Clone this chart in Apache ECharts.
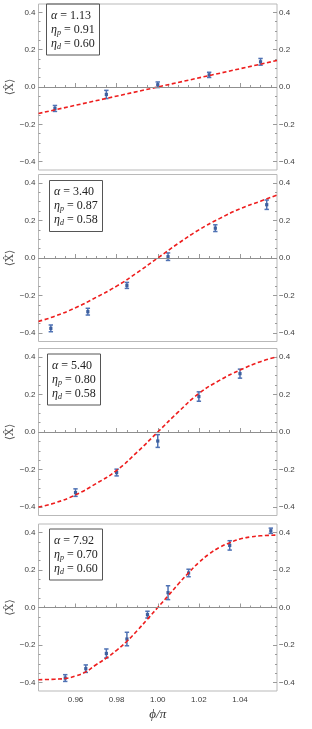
<!DOCTYPE html>
<html><head><meta charset="utf-8">
<script src="https://cdn.jsdelivr.net/npm/echarts@6/dist/echarts.min.js"></script>
<style>html,body{margin:0;padding:0;background:#fff}#c{width:312px;height:729px}</style>
</head><body><div id="c"></div>
<script>
// ---- tick labels ----
const xMajor = [0.96, 0.98, 1.00, 1.02, 1.04];
const xMinor = [0.945, 0.95, 0.955, 0.965, 0.97, 0.975, 0.985, 0.99, 0.995, 1.005, 1.01, 1.015, 1.025, 1.03, 1.035, 1.045, 1.05, 1.055];
const yMajor = [-0.4, -0.2, 0.0, 0.2, 0.4];
const yMinor = [-0.35, -0.3, -0.25, -0.15, -0.1, -0.05, 0.05, 0.1, 0.15, 0.25, 0.3, 0.35];

// ---- panel parameters ----
const alphas = ['1.13', '3.40', '5.40', '7.92'];
const etaP = ['0.91', '0.87', '0.80', '0.70'];
const etaD = ['0.60', '0.58', '0.58', '0.60'];

// ---- panel 1 ----
const p1X = [0.95, 0.975, 1.0, 1.025, 1.05];
const p1Y = [-0.115, -0.040, 0.012, 0.065, 0.135];
const p1E = [0.016, 0.022, 0.015, 0.014, 0.018];
const c1X = [0.942, 1.0, 1.058];
const c1Y = [-0.142, 0.0, 0.142];

// ---- panel 2 ----
const p2X = [0.948, 0.966, 0.985, 1.005, 1.028, 1.053];
const p2Y = [-0.375, -0.286, -0.146, 0.007, 0.159, 0.284];
const p2E = [0.018, 0.018, 0.016, 0.020, 0.018, 0.025];
const c2X = [0.942, 0.95, 0.96, 0.97, 0.98, 0.99, 1.0, 1.01, 1.02, 1.03, 1.04, 1.05, 1.058];
const c2Y = [-0.338, -0.31, -0.265, -0.21, -0.15, -0.078, 0.0, 0.078, 0.15, 0.21, 0.262, 0.303, 0.335];

// ---- panel 3 ----
const p3X = [0.96, 0.98, 1.00, 1.02, 1.04];
const p3Y = [-0.323, -0.216, -0.048, 0.189, 0.311];
const p3E = [0.020, 0.018, 0.034, 0.025, 0.024];
const c3X = [0.942, 0.95, 0.96, 0.97, 0.98, 0.99, 1.0, 1.01, 1.02, 1.03, 1.04, 1.05, 1.058];
const c3Y = [-0.40, -0.378, -0.335, -0.275, -0.205, -0.107, 0.0, 0.107, 0.205, 0.275, 0.33, 0.375, 0.40];

// ---- panel 4 ----
const p4X = [0.955, 0.965, 0.975, 0.985, 0.995, 1.005, 1.015, 1.035, 1.055];
const p4Y = [-0.376, -0.326, -0.245, -0.168, -0.038, 0.079, 0.184, 0.331, 0.409];
const p4E = [0.018, 0.020, 0.024, 0.036, 0.018, 0.037, 0.020, 0.025, 0.014];
const c4X = [0.942, 0.95, 0.955, 0.96, 0.965, 0.97, 0.975, 0.98, 0.985, 0.99, 0.995, 1.0, 1.005, 1.01, 1.015, 1.02, 1.025, 1.03, 1.035, 1.04, 1.045, 1.05, 1.058];
const c4Y = [-0.385, -0.382, -0.378, -0.365, -0.343, -0.305, -0.27, -0.228, -0.18, -0.123, -0.062, 0.0, 0.062, 0.125, 0.185, 0.24, 0.285, 0.32, 0.345, 0.365, 0.376, 0.382, 0.386];

const panels = [
  {px: p1X, py: p1Y, pe: p1E, cx: c1X, cy: c1Y},
  {px: p2X, py: p2Y, pe: p2E, cx: c2X, cy: c2Y},
  {px: p3X, py: p3Y, pe: p3E, cx: c3X, cy: c3Y},
  {px: p4X, py: p4Y, pe: p4E, cx: c4X, cy: c4Y}
];

const tops = [4, 174.5, 348.5, 524];
const heights = [166, 167, 167, 167];
const GL = 38.5, GW = 238.5;
const XMIN = 0.942, XMAX = 1.058, YMIN = -0.445, YMAX = 0.445;
const frameCol = '#b9b9b9', tickCol = '#9a9a9a', labCol = '#3c3c3c';
const blue = '#4f72b4', red = '#ee1d1d';
const labFont = {fontFamily: 'Liberation Sans', fontSize: 8, color: labCol};
const yFmt = v => (Math.abs(v) < 1e-9 ? '0.0' : (v < 0 ? '\u2212' : '') + Math.abs(v).toFixed(1));

const grid = [], xAxis = [], yAxis = [], series = [], title = [];
const boxPos = [[46, 3.5], [49, 180], [47, 353.5], [49, 528.5]];

panels.forEach((p, i) => {
  grid.push({left: GL, width: GW, top: tops[i], height: heights[i], show: true,
    containLabel: false, outerBoundsMode: 'none',
    borderColor: frameCol, borderWidth: 1, backgroundColor: 'transparent'});
  const last = i === 3;
  xAxis.push({gridIndex: i, type: 'value', min: XMIN, max: XMAX, position: 'bottom',
    axisLine: {show: false}, splitLine: {show: false},
    axisTick: {show: true, inside: true, length: 4, customValues: xMajor, lineStyle: {color: tickCol}},
    axisLabel: {show: last, customValues: xMajor, margin: 5, formatter: v => v.toFixed(2), ...labFont},
    name: last ? '\u03D5/\u03C0' : '', nameLocation: 'middle', nameGap: 17, nameMoveOverlap: false,
    nameTextStyle: {fontFamily: 'Liberation Serif', fontStyle: 'italic', fontSize: 13, color: '#333'}});
  xAxis.push({gridIndex: i, type: 'value', min: XMIN, max: XMAX, position: 'bottom',
    axisLine: {show: false}, splitLine: {show: false}, axisLabel: {show: false},
    axisTick: {show: true, inside: true, length: 2, customValues: xMinor, lineStyle: {color: tickCol}}});
  yAxis.push({gridIndex: i, type: 'value', min: YMIN, max: YMAX, position: 'left',
    axisLine: {show: false}, splitLine: {show: false},
    axisTick: {show: true, inside: true, length: 4, customValues: yMajor, lineStyle: {color: tickCol}},
    axisLabel: {show: true, inside: false, customValues: yMajor, margin: 3, formatter: yFmt, ...labFont},
    name: '\u27E8X\u0302\u27E9', nameLocation: 'middle', nameGap: 23, nameRotate: 90, nameMoveOverlap: false,
    nameTextStyle: {fontFamily: 'DejaVu Serif', fontSize: 11, color: '#555'}});
  yAxis.push({gridIndex: i, type: 'value', min: YMIN, max: YMAX, position: 'left',
    axisLine: {show: false}, splitLine: {show: false}, axisLabel: {show: false},
    axisTick: {show: true, inside: true, length: 2, customValues: yMinor, lineStyle: {color: tickCol}}});
  yAxis.push({gridIndex: i, type: 'value', min: YMIN, max: YMAX, position: 'right',
    axisLine: {show: false}, splitLine: {show: false},
    axisTick: {show: true, inside: true, length: 4, customValues: yMajor, lineStyle: {color: tickCol}},
    axisLabel: {show: true, inside: false, customValues: yMajor, margin: 2, formatter: yFmt, ...labFont}});
  yAxis.push({gridIndex: i, type: 'value', min: YMIN, max: YMAX, position: 'right',
    axisLine: {show: false}, splitLine: {show: false}, axisLabel: {show: false},
    axisTick: {show: true, inside: true, length: 2, customValues: yMinor, lineStyle: {color: tickCol}}});

  const xi = 2 * i, yi = 4 * i;
  series.push({type: 'line', xAxisIndex: xi, yAxisIndex: yi, data: [], z: 1,
    markLine: {silent: true, symbol: 'none', animation: false, label: {show: false},
      lineStyle: {color: '#8f8f8f', width: 1, type: 'solid'}, data: [{yAxis: 0}]}});
  series.push({type: 'custom', xAxisIndex: xi, yAxisIndex: yi, z: 3,
    data: p.px.map((x, k) => [x, p.py[k], p.pe[k]]),
    encode: {x: 0, y: 1},
    renderItem: (params, api) => {
      const x = api.value(0), y = api.value(1), e = api.value(2);
      const t = api.coord([x, y + e]), b = api.coord([x, y - e]), c = api.coord([x, y]);
      const w = 2.2;
      const st = {stroke: blue, lineWidth: 1.5};
      return {type: 'group', children: [
        {type: 'line', shape: {x1: t[0], y1: t[1], x2: b[0], y2: b[1]}, style: st},
        {type: 'line', shape: {x1: t[0] - w, y1: t[1], x2: t[0] + w, y2: t[1]}, style: st},
        {type: 'line', shape: {x1: b[0] - w, y1: b[1], x2: b[0] + w, y2: b[1]}, style: st},
        {type: 'rect', shape: {x: c[0] - 1.6, y: c[1] - 1.6, width: 3.2, height: 3.2}, style: {fill: '#3d5f9e'}}
      ]};
    }});
  series.push({type: 'line', xAxisIndex: xi, yAxisIndex: yi, z: 4, smooth: i === 0 ? false : 0.5,
    symbol: 'none', data: p.cx.map((x, k) => [x, p.cy[k]]),
    lineStyle: {color: red, width: 1.6, type: [4, 2.5]}});

  title.push({left: boxPos[i][0], top: boxPos[i][1],
    text: '{i|\u03B1} = ' + alphas[i] + '\n{i|\u03B7}{s|p} = ' + etaP[i] + '\n{i|\u03B7}{s|d} = ' + etaD[i],
    borderColor: '#555', borderWidth: 1, padding: [5, 5, 5, 5],
    textStyle: {fontFamily: 'Liberation Serif', fontSize: 12, fontWeight: 'normal', lineHeight: 14, color: '#222',
      rich: {
        i: {fontFamily: 'Liberation Serif', fontStyle: 'italic', fontSize: 12, lineHeight: 14, color: '#222'},
        s: {fontFamily: 'Liberation Serif', fontStyle: 'italic', fontSize: 8, lineHeight: 6, verticalAlign: 'bottom', color: '#222'}
      }}});
});

const chart = echarts.init(document.getElementById('c'), null, {renderer: 'canvas'});
chart.setOption({animation: false, backgroundColor: '#fff', title, grid, xAxis, yAxis, series});
</script>
</body></html>
